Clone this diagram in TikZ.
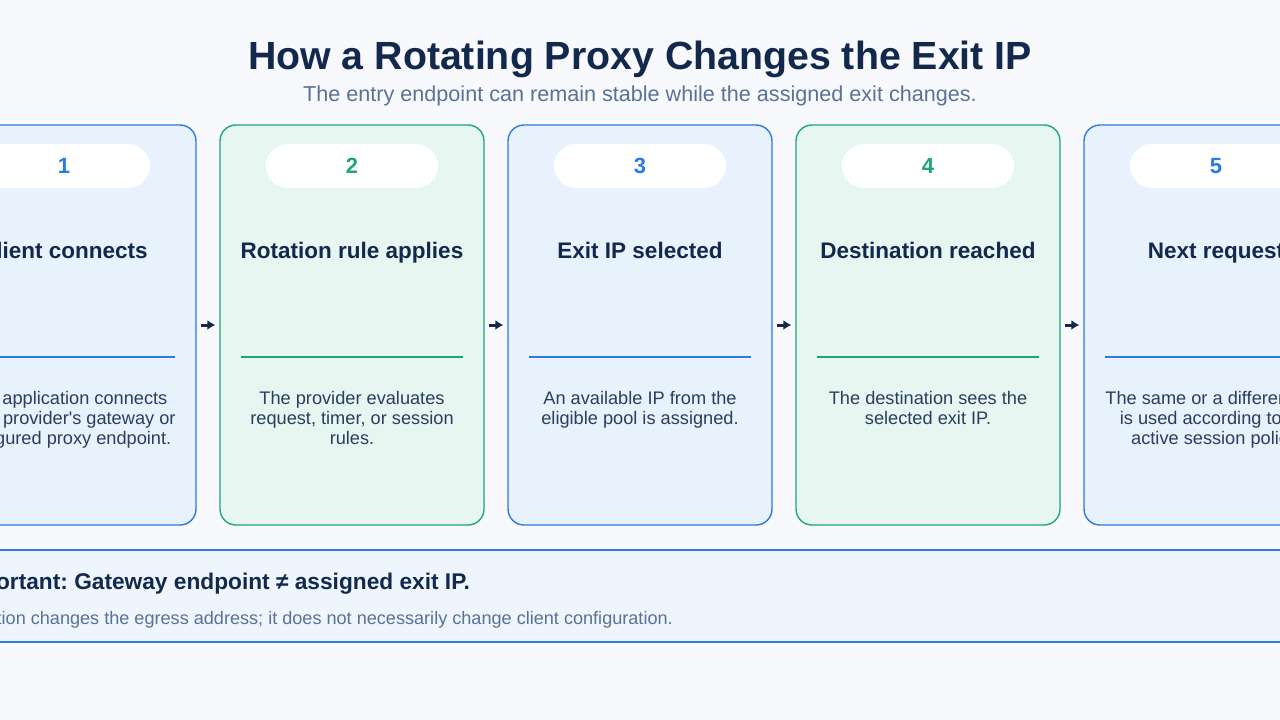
\documentclass[tikz,border=0pt]{standalone}
\usepackage{fontspec}
\setmainfont{Liberation Sans}
\usetikzlibrary{arrows.meta}
\frenchspacing

\definecolor{pagebg}{HTML}{F7F9FC}
\definecolor{navy}{HTML}{12294D}
\definecolor{subgray}{HTML}{5B7195}
\definecolor{bodytext}{HTML}{2A3D5E}
\definecolor{stepblue}{HTML}{2B7BE4}
\definecolor{stepbluefill}{HTML}{E8F2FD}
\definecolor{stepgreen}{HTML}{1FA67A}
\definecolor{stepgreenfill}{HTML}{E7F6F0}
\definecolor{notefill}{HTML}{EEF5FD}

\tikzset{
  card/.style={rectangle, rounded corners=16pt, line width=1.4pt,
    minimum width=264pt, minimum height=400pt, inner sep=0pt},
  bluecard/.style={card, draw=stepblue, fill=stepbluefill},
  greencard/.style={card, draw=stepgreen, fill=stepgreenfill},
  pill/.style={rectangle, rounded corners=22pt, fill=white,
    minimum width=172pt, minimum height=44pt, inner sep=0pt,
    font=\fontsize{22}{26}\selectfont\bfseries},
  cardtitle/.style={anchor=base, inner sep=0pt, text=navy,
    font=\fontsize{22.5}{26}\selectfont\bfseries},
  cardtext/.style={anchor=north, inner sep=0pt, align=center, text=bodytext,
    font=\fontsize{18.2}{20}\selectfont},
  flow/.style={draw=navy, line width=3pt, shorten <=4pt, shorten >=4pt,
    -{Latex[length=8pt,width=10pt]}},
}

\begin{document}
\begin{tikzpicture}[x=1pt, y=-1pt]

  % page
  \useasboundingbox (0,0) rectangle (1280,720);
  \clip (0,0) rectangle (1280,720);
  \fill[pagebg] (0,0) rectangle (1280,720);

  % heading
  \node[anchor=base, inner sep=0pt, text=navy, font=\fontsize{39.3}{44}\selectfont\bfseries]
    (title) at (640,69) {How a Rotating Proxy Changes the Exit IP};
  \node[anchor=base, inner sep=0pt, text=subgray, font=\fontsize{21.6}{24}\selectfont]
    (subtitle) at (640,101) {The entry endpoint can remain stable while the assigned exit changes.};

  % the five step cards
  \node[bluecard]  (c1) at (64,325)  {};
  \node[greencard] (c2) at (352,325) {};
  \node[bluecard]  (c3) at (640,325) {};
  \node[greencard] (c4) at (928,325) {};
  \node[bluecard]  (c5) at (1216,325) {};

  % step numbers
  \node[pill, text=stepblue]  (n1) at (64,166)  {1};
  \node[pill, text=stepgreen] (n2) at (352,166) {2};
  \node[pill, text=stepblue]  (n3) at (640,166) {3};
  \node[pill, text=stepgreen] (n4) at (928,166) {4};
  \node[pill, text=stepblue]  (n5) at (1216,166) {5};

  % step titles
  \node[cardtitle] (t1) at (64,258)   {Client connects};
  \node[cardtitle] (t2) at (352,258)  {Rotation rule applies};
  \node[cardtitle] (t3) at (640,258)  {Exit IP selected};
  \node[cardtitle] (t4) at (928,258)  {Destination reached};
  \node[cardtitle] (t5) at (1216,258) {Next request};

  % dividers
  \draw[stepblue, line width=1.4pt]  (-47,357)  -- (175,357);
  \draw[stepgreen, line width=1.4pt] (241,357)  -- (463,357);
  \draw[stepblue, line width=1.4pt]  (529,357)  -- (751,357);
  \draw[stepgreen, line width=1.4pt] (817,357)  -- (1039,357);
  \draw[stepblue, line width=1.4pt]  (1105,357) -- (1327,357);

  % step descriptions
  \node[cardtext] (d1) at (64,391)   {Your application connects\\to the provider\textquotesingle s gateway or\\configured proxy endpoint.};
  \node[cardtext] (d2) at (352,391)  {The provider evaluates\\request, timer, or session\\rules.};
  \node[cardtext] (d3) at (640,391)  {An available IP from the\\eligible pool is assigned.};
  \node[cardtext] (d4) at (928,391)  {The destination sees the\\selected exit IP.};
  \node[cardtext] (d5) at (1216,391) {The same or a different exit\\is used according to the\\active session policy.};

  % arrows between cards
  \draw[flow] (c1.east) -- (c2.west);
  \draw[flow] (c2.east) -- (c3.west);
  \draw[flow] (c3.east) -- (c4.west);
  \draw[flow] (c4.east) -- (c5.west);

  % note strip
  \node[rectangle, draw=stepblue, fill=notefill, line width=1.4pt,
    minimum width=1400pt, minimum height=92pt] (note) at (640,596) {};
  \node[anchor=base east, inner sep=0pt, text=navy, font=\fontsize{22.7}{26}\selectfont\bfseries]
    (notehead) at (470,589) {Important: Gateway endpoint ≠ assigned exit IP.};
  \node[anchor=base east, inner sep=0pt, text=subgray, font=\fontsize{18.1}{22}\selectfont]
    (notetext) at (673,624) {Rotation changes the egress address; it does not necessarily change client configuration.};

\end{tikzpicture}
\end{document}
